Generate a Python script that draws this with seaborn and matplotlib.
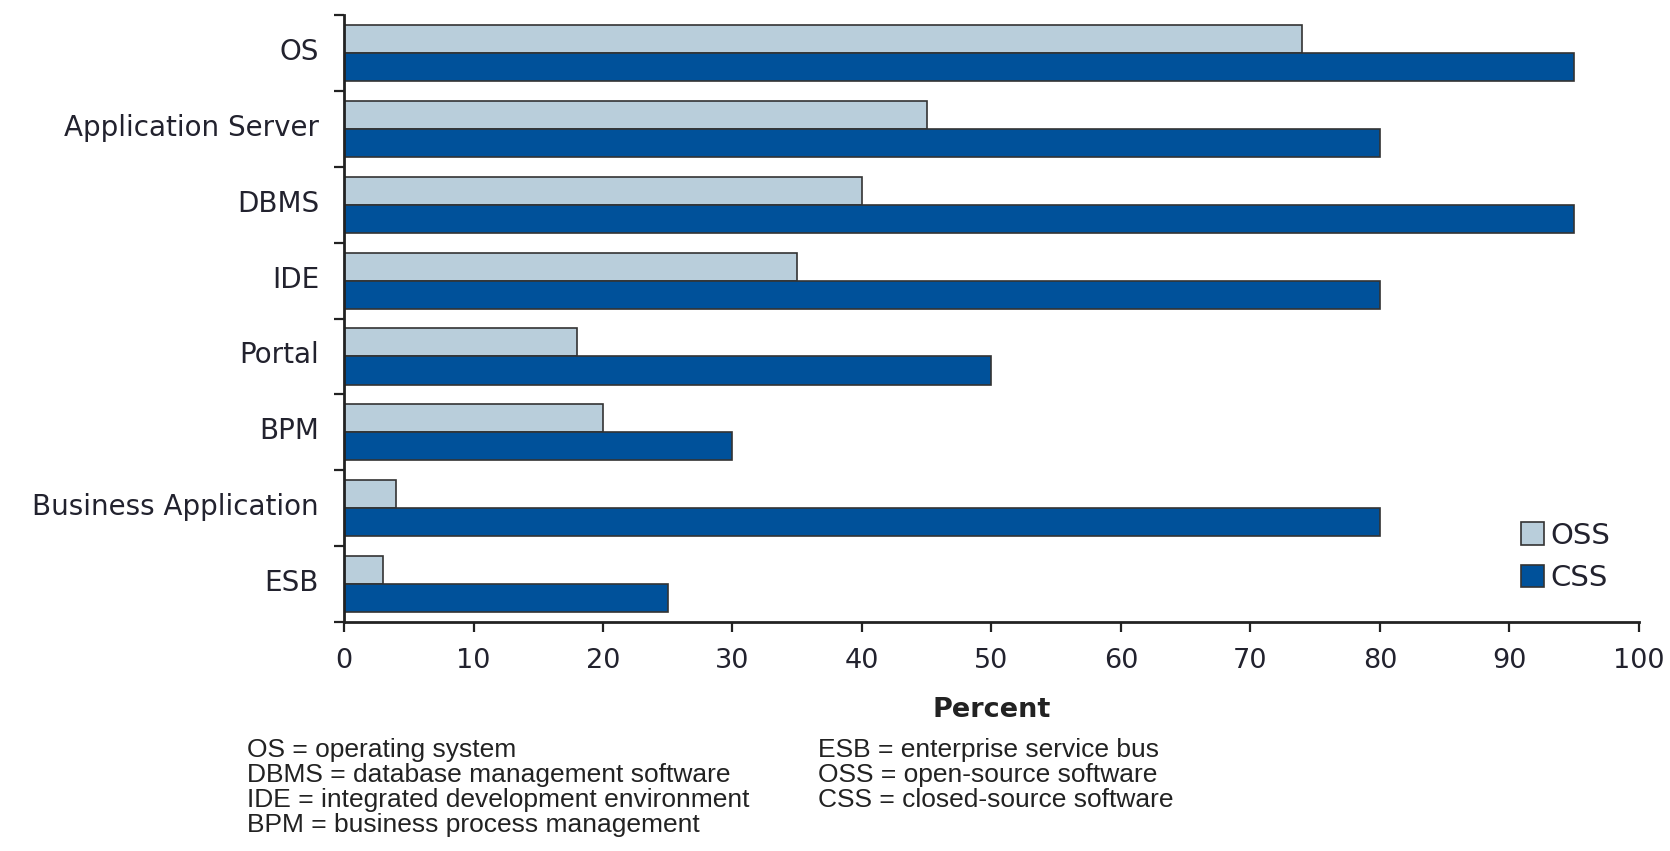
import pandas as pd
import matplotlib.pyplot as plt
import matplotlib.transforms as mtransforms
import seaborn as sns
from matplotlib.ticker import FixedLocator

categories = ['OS', 'Application Server', 'DBMS', 'IDE', 'Portal', 'BPM',
              'Business Application', 'ESB']
oss_values = [74, 45, 40, 35, 18, 20, 4, 3]
css_values = [95, 80, 95, 80, 50, 30, 80, 25]
series_names = ['OSS', 'CSS']
x_ticks = [0, 10, 20, 30, 40, 50, 60, 70, 80, 90, 100]

notes_left = ['OS = operating system',
              'DBMS = database management software',
              'IDE = integrated development environment',
              'BPM = business process management']
notes_right = ['ESB = enterprise service bus',
               'OSS = open-source software',
               'CSS = closed-source software']

# long format for seaborn
df = pd.DataFrame({
    'Category': categories * 2,
    'Percent': oss_values + css_values,
    'Software': [series_names[0]] * len(categories) + [series_names[1]] * len(categories),
})

sns.set_theme(style='white')
plt.rcParams['font.family'] = ['DejaVu Sans']

fig = plt.figure(figsize=(16.7, 8.51), dpi=100)
ax = fig.add_axes([0.206, 0.269, 0.7754, 0.7134])

sns.barplot(data=df, y='Category', x='Percent', hue='Software', orient='h',
            hue_order=series_names, palette=['#b9cedb', '#00519a'],
            edgecolor='#333333', linewidth=1.2, width=0.74, gap=0,
            saturation=1, ax=ax, legend=True)

ax.set_xlim(0, 100)
ax.set_ylim(len(categories) - 0.5, -0.5)
ax.set_xticks(x_ticks)
ax.set_xticklabels([str(t) for t in x_ticks], fontsize=19.5, color='#22222e')
ax.set_yticks(range(len(categories)))
ax.set_yticklabels(categories, fontsize=20, color='#22222e')
ax.yaxis.set_minor_locator(FixedLocator([i - 0.5 for i in range(len(categories) + 1)]))

ax.tick_params(axis='y', which='major', length=0, pad=18)
ax.tick_params(axis='y', which='minor', left=True, length=7, width=1.6, color='#222222')
ax.tick_params(axis='x', which='major', bottom=True, length=7, width=1.6,
               color='#222222', pad=12)

# category labels sit a little above the group centre in the original
shift = mtransforms.ScaledTranslation(0, 4 / 100, fig.dpi_scale_trans)
for lbl in ax.get_yticklabels():
    lbl.set_transform(lbl.get_transform() + shift)

for side in ['top', 'right']:
    ax.spines[side].set_visible(False)
for side in ['left', 'bottom']:
    ax.spines[side].set_linewidth(2)
    ax.spines[side].set_color('#222222')

ax.set_ylabel('')
ax.set_xlabel('Percent', fontsize=19.5, fontweight='bold', color='#222222', labelpad=16)

handles, labels = ax.get_legend_handles_labels()
ax.legend(handles, labels, loc='upper left', bbox_to_anchor=(0.895, 0.418),
          bbox_transform=fig.transFigure, frameon=False, fontsize=21,
          handlelength=0.8, handleheight=0.8, handletextpad=0.2,
          labelspacing=0.5, labelcolor='#22222e')

for i, line in enumerate(notes_left):
    fig.text(247 / 1670, 1 - (750 + 25 * i) / 851, line, fontsize=19,
             family='Liberation Sans', color='#222222', va='center', ha='left')
for i, line in enumerate(notes_right):
    fig.text(818 / 1670, 1 - (750 + 25 * i) / 851, line, fontsize=19,
             family='Liberation Sans', color='#222222', va='center', ha='left')

fig.savefig('out.png', dpi=100, facecolor='white')
